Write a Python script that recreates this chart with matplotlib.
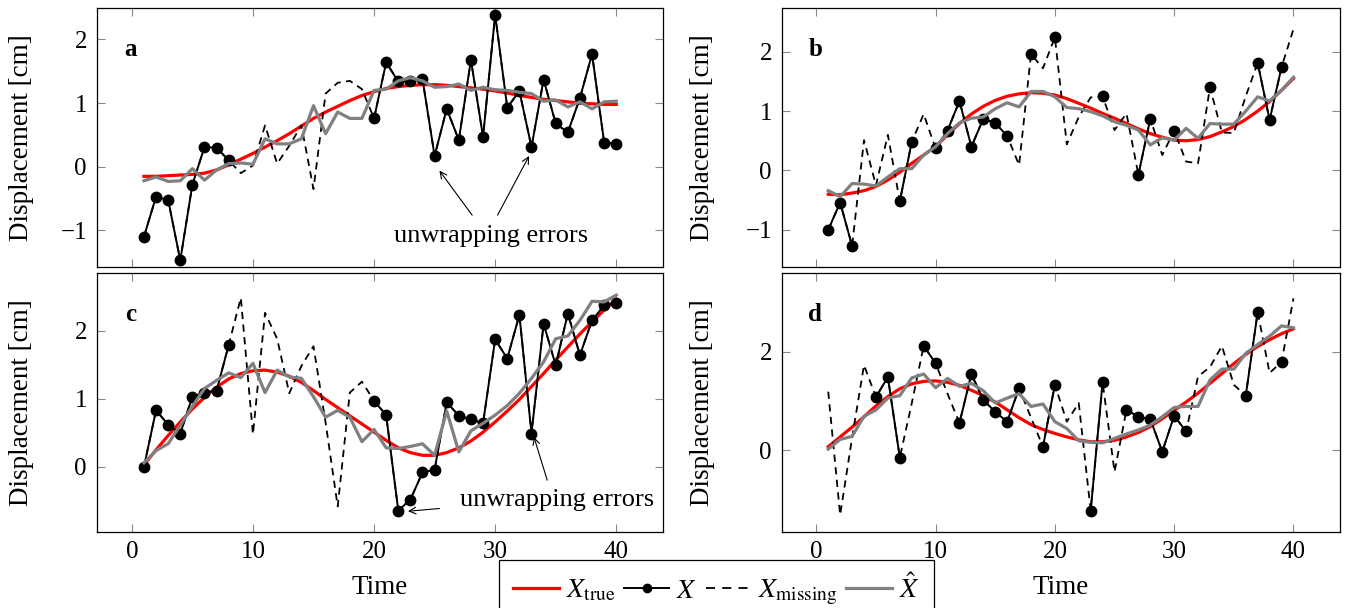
import numpy as np
import matplotlib
matplotlib.use("Agg")
import matplotlib.pyplot as plt
from matplotlib.lines import Line2D

plt.rcParams["font.family"] = ["Liberation Serif", "DejaVu Serif"]
plt.rcParams["mathtext.fontset"] = "stix"

time = list(range(1, 41))

# ---------------- panel a ----------------
a_true = [-0.15, -0.15, -0.14, -0.13, -0.12, -0.10, -0.05, 0.03, 0.12, 0.21,
          0.31, 0.41, 0.52, 0.64, 0.76, 0.86, 0.95, 1.04, 1.12, 1.18,
          1.23, 1.26, 1.28, 1.29, 1.29, 1.28, 1.26, 1.24, 1.22, 1.19,
          1.16, 1.12, 1.09, 1.06, 1.04, 1.02, 1.00, 0.99, 0.98, 0.98]
a_full = [-1.10, -0.47, -0.52, -1.47, -0.28, 0.31, 0.30, 0.10, -0.10, 0.02,
          0.65, 0.05, 0.33, 0.65, -0.35, 1.15, 1.32, 1.35, 1.22, 0.76,
          1.64, 1.34, 1.34, 1.38, 0.17, 0.91, 0.42, 1.68, 0.47, 2.39,
          0.93, 1.19, 0.31, 1.37, 0.68, 0.54, 1.08, 1.77, 0.38, 0.36]
a_obs = [1, 1, 1, 1, 1, 1, 1, 1, 0, 0, 0, 0, 0, 0, 0, 0, 0, 0, 0, 1,
         1, 1, 1, 1, 1, 1, 1, 1, 1, 1, 1, 1, 1, 1, 1, 1, 1, 1, 1, 1]
a_est = [-0.22, -0.16, -0.23, -0.22, -0.03, -0.21, -0.05, 0.05, 0.06, 0.04,
         0.44, 0.36, 0.36, 0.44, 0.96, 0.52, 0.86, 0.76, 0.76, 1.20,
         1.22, 1.35, 1.40, 1.35, 1.25, 1.26, 1.30, 1.20, 1.25, 1.21,
         1.20, 1.17, 1.15, 1.03, 1.05, 0.94, 1.02, 0.91, 1.02, 1.03]

# ---------------- panel b ----------------
b_true = [-0.40, -0.41, -0.38, -0.34, -0.27, -0.16, -0.03, 0.12, 0.26, 0.40,
          0.60, 0.79, 0.95, 1.08, 1.18, 1.25, 1.29, 1.31, 1.30, 1.27,
          1.21, 1.13, 1.05, 0.96, 0.88, 0.79, 0.70, 0.62, 0.56, 0.51,
          0.50, 0.52, 0.57, 0.65, 0.74, 0.86, 1.00, 1.16, 1.35, 1.55]
b_full = [-1.00, -0.54, -1.27, 0.51, -0.25, 0.60, -0.52, 0.48, 0.95, 0.37,
          0.67, 1.17, 0.40, 0.87, 0.80, 0.58, 0.09, 1.96, 1.72, 2.24,
          0.44, 0.90, 1.23, 1.25, 0.68, 0.96, -0.07, 0.87, 0.26, 0.67,
          0.15, 0.12, 1.40, 0.64, 0.63, 1.25, 1.81, 0.85, 1.74, 2.38]
b_obs = [1, 1, 1, 0, 0, 0, 1, 1, 0, 1, 1, 1, 1, 1, 1, 1, 0, 1, 0, 1,
         0, 0, 0, 1, 0, 0, 1, 1, 0, 1, 0, 0, 1, 0, 0, 0, 1, 1, 1, 0]
b_est = [-0.34, -0.44, -0.22, -0.23, -0.26, -0.11, 0.03, 0.03, 0.26, 0.40,
         0.62, 0.80, 0.88, 0.90, 1.04, 1.14, 1.07, 1.33, 1.33, 1.24,
         1.06, 1.04, 0.99, 0.92, 0.82, 0.76, 0.68, 0.43, 0.55, 0.51,
         0.71, 0.54, 0.79, 0.78, 0.78, 1.00, 1.24, 1.17, 1.35, 1.57]

# ---------------- panel c ----------------
c_true = [0.03, 0.25, 0.46, 0.66, 0.85, 1.02, 1.17, 1.29, 1.37, 1.41,
          1.42, 1.39, 1.33, 1.24, 1.12, 0.99, 0.87, 0.75, 0.63, 0.51,
          0.39, 0.28, 0.21, 0.17, 0.17, 0.21, 0.28, 0.38, 0.51, 0.66,
          0.82, 0.99, 1.18, 1.37, 1.57, 1.76, 1.95, 2.13, 2.30, 2.46]
c_full = [0.00, 0.83, 0.62, 0.49, 1.03, 1.09, 1.12, 1.79, 2.48, 0.48,
          2.26, 1.88, 1.08, 1.48, 1.77, 0.65, -0.58, 1.09, 1.25, 0.97,
          0.76, -0.64, -0.48, -0.08, -0.04, 0.95, 0.75, 0.70, 0.64, 1.87,
          1.59, 2.23, 0.49, 2.10, 1.49, 2.25, 1.64, 2.15, 2.37, 2.41]
c_obs = [1, 1, 1, 1, 1, 1, 1, 1, 0, 0, 0, 0, 0, 0, 0, 0, 0, 0, 0, 1,
         1, 1, 1, 1, 1, 1, 1, 1, 1, 1, 1, 1, 1, 1, 1, 1, 1, 1, 1, 1]
c_est = [0.06, 0.24, 0.34, 0.61, 0.89, 1.15, 1.27, 1.38, 1.31, 1.52,
         1.09, 1.42, 1.32, 1.30, 1.03, 0.73, 0.83, 0.73, 0.37, 0.55,
         0.28, 0.27, 0.30, 0.34, 0.17, 0.82, 0.22, 0.53, 0.64, 0.76,
         0.90, 1.08, 1.30, 1.54, 1.88, 1.92, 2.15, 2.43, 2.42, 2.52]

# ---------------- panel d ----------------
d_true = [0.07, 0.27, 0.47, 0.68, 0.90, 1.09, 1.25, 1.35, 1.40, 1.41,
          1.38, 1.32, 1.22, 1.11, 0.98, 0.82, 0.66, 0.52, 0.42, 0.34,
          0.27, 0.21, 0.17, 0.17, 0.20, 0.27, 0.36, 0.48, 0.64, 0.81,
          0.98, 1.16, 1.36, 1.56, 1.76, 1.95, 2.11, 2.25, 2.37, 2.47]
d_full = [1.19, -1.32, 0.25, 1.73, 1.08, 1.49, -0.15, 0.95, 2.12, 1.77,
          1.15, 0.55, 1.55, 1.02, 0.78, 0.58, 1.26, 0.66, 0.07, 1.33,
          0.58, 0.96, -1.23, 1.38, -0.44, 0.82, 0.68, 0.63, -0.03, 0.70,
          0.38, 1.50, 1.69, 2.12, 1.33, 1.11, 2.81, 1.57, 1.80, 3.09]
d_obs = [0, 0, 0, 0, 1, 1, 1, 0, 1, 1, 0, 1, 1, 1, 1, 1, 1, 0, 1, 1,
         0, 0, 1, 1, 0, 1, 1, 1, 1, 1, 1, 0, 0, 0, 0, 1, 1, 0, 1, 0]
d_est = [0.02, 0.22, 0.28, 0.69, 0.82, 1.06, 1.11, 1.47, 1.55, 1.27,
         1.46, 1.30, 1.36, 1.21, 0.96, 1.06, 1.15, 0.89, 0.94, 0.58,
         0.44, 0.19, 0.16, 0.15, 0.24, 0.33, 0.41, 0.51, 0.68, 0.87,
         0.89, 0.89, 1.43, 1.65, 1.65, 1.97, 2.15, 2.32, 2.53, 2.49]

panel_labels = ["a", "b", "c", "d"]
x_ticks = [0, 10, 20, 30, 40]
y_ticks = {"a": [-1, 0, 1, 2], "b": [-1, 0, 1, 2], "c": [0, 1, 2], "d": [0, 2]}
y_limits = {"a": (-1.57, 2.49), "b": (-1.62, 2.73), "c": (-0.95, 2.84), "d": (-1.66, 3.60)}

W, H = 1348, 608
fig = plt.figure(figsize=(W / 100, H / 100), dpi=100)

# axes boxes in pixels: left, top, right, bottom
boxes = {
    "a": (96.7, 8.3, 663.5, 266.7),
    "b": (781.7, 8.3, 1340.0, 266.7),
    "c": (96.7, 273.3, 663.5, 531.7),
    "d": (781.7, 273.3, 1340.0, 531.7),
}
data = {
    "a": (a_true, a_full, a_obs, a_est),
    "b": (b_true, b_full, b_obs, b_est),
    "c": (c_true, c_full, c_obs, c_est),
    "d": (d_true, d_full, d_obs, d_est),
}

RED = "#ff0000"
GRAY = "#808080"
FS = 19.5

axes = {}
for key in panel_labels:
    l, t, r, b = boxes[key]
    ax = fig.add_axes([l / W, 1 - b / H, (r - l) / W, (b - t) / H])
    axes[key] = ax
    tru, full, obs, est = data[key]
    tt = np.array(time)
    full_arr = np.array(full, dtype=float)
    obs_arr = np.where(np.array(obs) == 1, full_arr, np.nan)
    ax.plot(tt, tru, color=RED, lw=2.3, zorder=2)
    ax.plot(tt, obs_arr, color="black", lw=1.4, marker="o", ms=7.5, zorder=3)
    ax.plot(tt, full_arr, color="black", lw=1.3, dashes=(4, 3), zorder=3)
    ax.plot(tt, est, color=GRAY, lw=2.3, zorder=4)

    ax.set_xlim(-2.9, 43.9)
    ax.set_ylim(*y_limits[key])
    ax.set_xticks(x_ticks)
    ax.set_yticks(y_ticks[key])
    ax.tick_params(direction="in", length=6, width=0.8, color="#888888",
                   top=True, right=True, labelsize=18, pad=7)
    for s in ax.spines.values():
        s.set_linewidth(0.9)
        s.set_color("black")
    if key in ("a", "b"):
        ax.tick_params(labelbottom=False)
    else:
        ax.set_xlabel("Time", fontsize=FS)
        ax.xaxis.set_label_coords(0.5, -0.215)
        ax.xaxis.label.set_va("center")
    ax.set_ylabel("Displacement [cm]", fontsize=FS)
    if key in ("a", "c"):
        ax.yaxis.set_label_coords(-0.132, 0.5)
    else:
        ax.yaxis.set_label_coords(-0.141, 0.5)
    ax.yaxis.label.set_va("center")
    ax.text(0.06, 0.84, key, transform=ax.transAxes, fontsize=18,
            fontweight="bold", ha="center", va="center")

arrow = dict(arrowstyle="->", lw=0.8, color="black", shrinkA=0, shrinkB=0,
             mutation_scale=12)
ax = axes["a"]
ax.text(29.7, -1.09, "unwrapping errors", fontsize=19, ha="center", va="center")
ax.annotate("", xy=(25.4, -0.06), xytext=(28.1, -0.76), arrowprops=arrow)
ax.annotate("", xy=(32.8, 0.17), xytext=(30.2, -0.76), arrowprops=arrow)

ax = axes["c"]
ax.text(35.1, -0.49, "unwrapping errors", fontsize=19, ha="center", va="center")
ax.annotate("", xy=(22.8, -0.65), xytext=(25.4, -0.61), arrowprops=arrow)
ax.annotate("", xy=(33.2, 0.44), xytext=(34.3, -0.195), arrowprops=arrow)

handles = [
    Line2D([], [], color=RED, lw=2.3),
    Line2D([], [], color="black", lw=1.4, marker="o", ms=6),
    Line2D([], [], color="black", lw=1.3, dashes=(5, 4)),
    Line2D([], [], color=GRAY, lw=2.3),
]
labels = [r"$X_{\mathrm{true}}$", r"$X$", r"$X_{\mathrm{missing}}$", r"$\hat{X}$"]
leg = fig.legend(handles, labels, loc="upper center",
                 bbox_to_anchor=(716.5 / W, 1 - 560 / H), ncol=4, fontsize=20,
                 frameon=True, fancybox=False, edgecolor="black", framealpha=1,
                 handlelength=1.65, handletextpad=0.25, columnspacing=0.3,
                 borderpad=0.5, borderaxespad=0)
leg.get_frame().set_linewidth(0.9)

fig.savefig("out.png", dpi=100)
